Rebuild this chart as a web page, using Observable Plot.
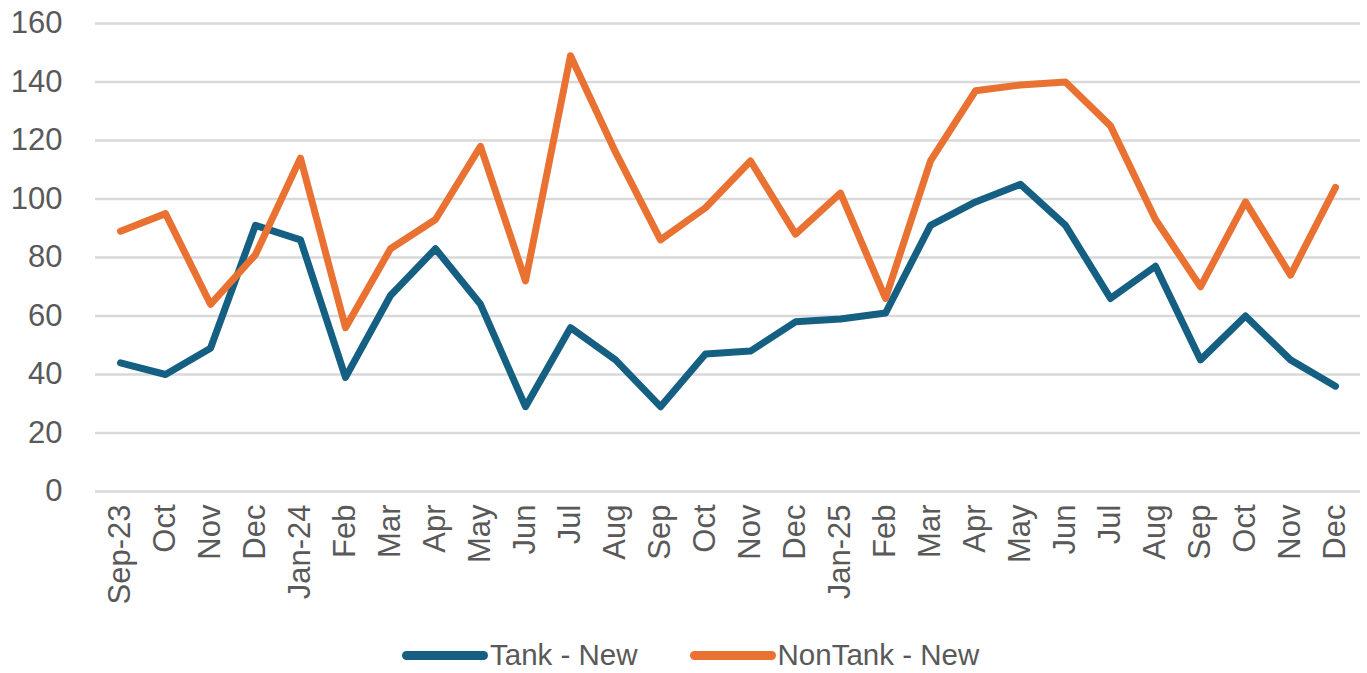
<!DOCTYPE html>
<html>
<head>
<meta charset="utf-8">
<script src="https://cdn.jsdelivr.net/npm/d3@7"></script>
<script src="https://cdn.jsdelivr.net/npm/@observablehq/plot@0.6"></script>
<style>
  html, body { margin: 0; padding: 0; background: #fff; overflow: hidden; }
  #chart { width: 1367px; height: 673px; position: relative; font-family: "Liberation Sans", Arial, sans-serif; }
  #legend { position: absolute; left: 402px; top: 632px; height: 46px; display: flex; align-items: center; font-size: 29.5px; color: #595959; }
  .item { display: flex; align-items: center; margin-right: 52px; }
  .sw { width: 86px; height: 9px; border-radius: 5px; margin-right: 2px; }
</style>
</head>
<body>
<div id="chart"></div>
<script>
const months = ["Sep-23","Oct","Nov","Dec","Jan-24","Feb","Mar","Apr","May","Jun","Jul","Aug","Sep","Oct","Nov","Dec","Jan-25","Feb","Mar","Apr","May","Jun","Jul","Aug","Sep","Oct","Nov","Dec"];
const tankNew = [44,40,49,91,86,39,67,83,64,29,56,45,29,47,48,58,59,61,91,99,105,91,66,77,45,60,45,36];
const nonTankNew = [89,95,64,81,114,56,83,93,118,72,149,116,86,97,113,88,102,66,113,137,139,140,125,93,70,99,74,104];
const seriesNames = ["Tank - New","NonTank - New"];
const colors = ["#156082","#E97132"];
const yTicks = [0,20,40,60,80,100,120,140,160];

const keys = months.map((m, i) => i);
const data = [];
keys.forEach(i => {
  data.push({k: i, series: seriesNames[0], value: tankNew[i]});
  data.push({k: i, series: seriesNames[1], value: nonTankNew[i]});
});

const plot = Plot.plot({
  width: 1367,
  height: 625,
  marginLeft: 95,
  marginRight: 7,
  marginTop: 23,
  marginBottom: 134,
  style: { fontFamily: "'Liberation Sans', Arial, sans-serif", fontSize: "31px", color: "#595959", background: "#fff" },
  x: { type: "point", domain: keys, padding: 0.5 },
  y: { domain: [0,160], ticks: yTicks },
  color: { domain: seriesNames, range: colors },
  marks: [
    Plot.ruleY(yTicks, { stroke: "#d9d9d9", strokeWidth: 2.5 }),
    Plot.axisY({ ticks: yTicks, tickSize: 0, tickPadding: 33, label: null, fontSize: 31, fill: "#595959" }),
    Plot.axisX({ ticks: keys, tickFormat: i => months[i], tickRotate: -90, tickSize: 0, tickPadding: 13, label: null, fontSize: 31, fill: "#595959" }),
    Plot.lineY(data, { x: "k", y: "value", z: "series", stroke: "series", strokeWidth: 7, strokeLinejoin: "round", strokeLinecap: "round" })
  ]
});
document.getElementById("chart").appendChild(plot);

const legend = document.createElement("div");
legend.id = "legend";
seriesNames.forEach((n, i) => {
  const it = document.createElement("div");
  it.className = "item";
  const sw = document.createElement("div");
  sw.className = "sw";
  sw.style.background = colors[i];
  const t = document.createElement("span");
  t.textContent = n;
  it.appendChild(sw); it.appendChild(t);
  legend.appendChild(it);
});
document.getElementById("chart").appendChild(legend);
</script>
</body>
</html>
